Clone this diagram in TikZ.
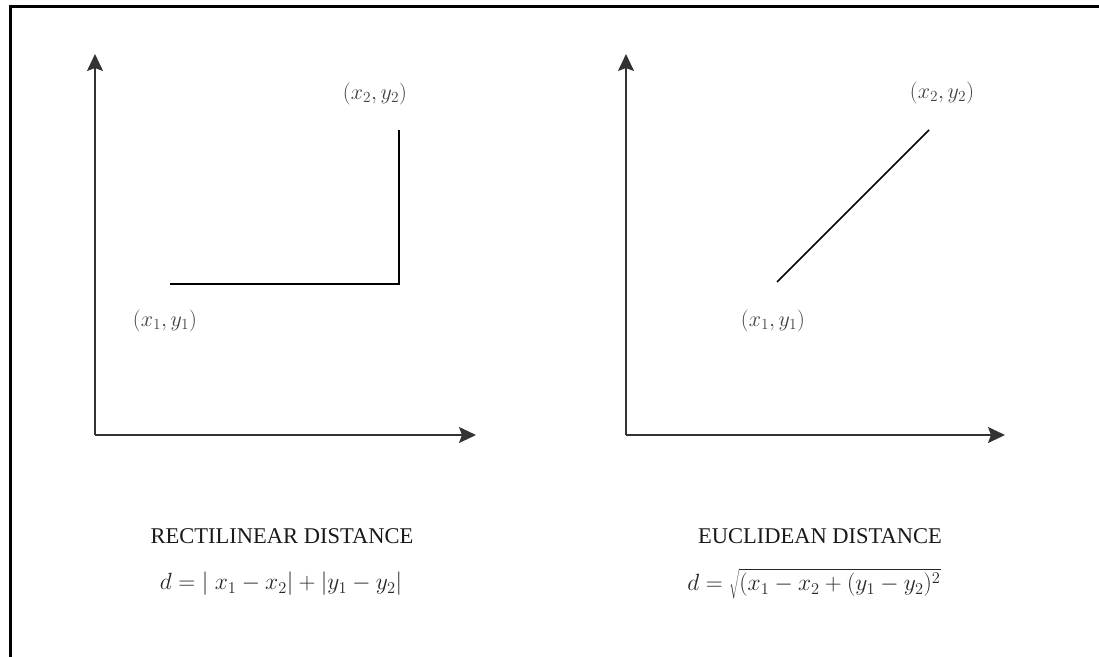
\documentclass[tikz,border=0pt]{standalone}
\usepackage{fix-cm}
\usepackage{fontspec}
\setmainfont{Liberation Serif}
\usetikzlibrary{arrows.meta}
\tikzset{
  axis/.style={draw=black!80, line width=1.6pt, -{Stealth[length=17pt, width=16pt, inset=3pt]}},
  seg/.style={draw=black, line width=1.6pt},
  pt/.style={font=\fontsize{22}{25}\selectfont, text=black!75, inner sep=0pt},
  caption/.style={font=\fontsize{22.5}{26}\selectfont, text=black!90, inner sep=0pt},
  formula/.style={font=\fontsize{23.5}{26}\selectfont, text=black!85, inner sep=0pt}
}

\begin{document}
\begin{tikzpicture}[x=1pt, y=-1pt]
  \useasboundingbox (0,0) rectangle (1099,656);
  % frame
  \coordinate (fl) at (10,656);
  \coordinate (fc) at (10,6);
  \coordinate (fr) at (1099,6);
  \draw[line width=3pt, line cap=rect] (fl) -- (fc) -- (fr);

  % rectilinear
  \coordinate (o1) at (95,435);
  \coordinate (y1) at (95,54);
  \coordinate (x1) at (476,435);
  \draw[axis] (o1) -- (y1);
  \draw[axis] (o1) -- (x1);
  \coordinate (pa) at (170,284);
  \coordinate (pb) at (399,284);
  \coordinate (pc) at (399,130);
  \draw[seg] (pa) -- (pb) -- (pc);
  \node[pt] (la) at (165,321) {$(x_1, y_1)$};
  \node[pt] (lc) at (375,94) {$(x_2, y_2)$};
  \node[caption] (cap1) at (282,536) {RECTILINEAR DISTANCE};
  \node[formula] (f1) at (281,584) {$d = |\;x_1 - x_2| + |y_1 - y_2|$};

  % euclidean
  \coordinate (o2) at (626,435);
  \coordinate (y2) at (626,54);
  \coordinate (x2) at (1005,435);
  \draw[axis] (o2) -- (y2);
  \draw[axis] (o2) -- (x2);
  \coordinate (qa) at (777,282);
  \coordinate (qb) at (929,130);
  \draw[seg] (qa) -- (qb);
  \node[pt] (ma) at (773,321) {$(x_1, y_1)$};
  \node[pt] (mb) at (942,93) {$(x_2, y_2)$};
  \node[caption] (cap2) at (820,536) {EUCLIDEAN DISTANCE};
  \node[formula] (f2) at (814,584) {$d = \sqrt{(x_1 - x_2 + (y_1 - y_2)^2}$};
\end{tikzpicture}
\end{document}
